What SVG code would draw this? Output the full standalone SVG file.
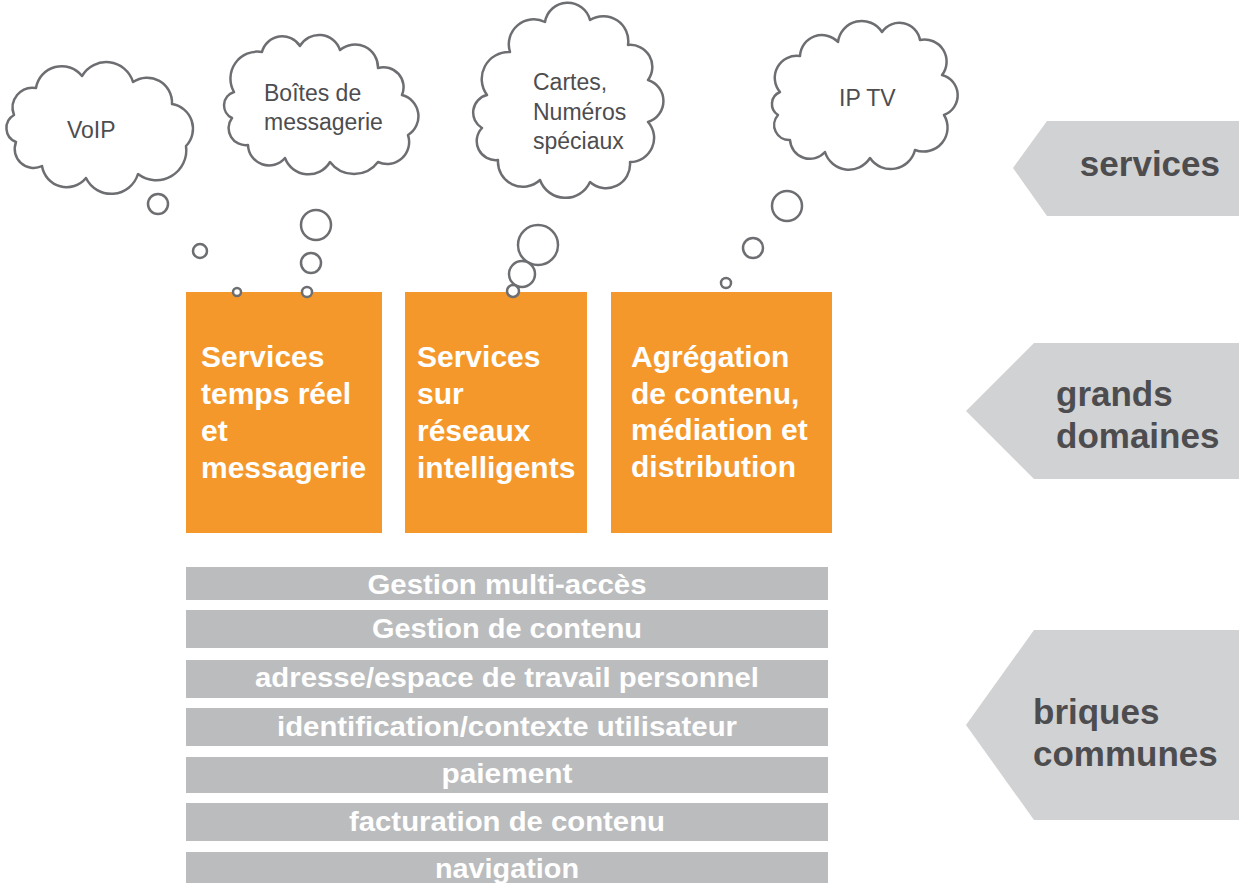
<svg xmlns="http://www.w3.org/2000/svg" width="1239" height="883" viewBox="0 0 1239 883">
<style>
.cloud{fill:#fff;stroke:#6d6e71;stroke-width:2.5;stroke-linejoin:round}
.bub{fill:#fff;stroke:#6d6e71;stroke-width:2.5}
.ct{font-family:"Liberation Sans",Arial,sans-serif;font-size:23px;fill:#4d4d4f}
.box{fill:#f4982b}
.bt{font-family:"Liberation Sans",Arial,sans-serif;font-size:30px;font-weight:bold;fill:#fff}
.bar{fill:#bbbcbe}
.brt{font-family:"Liberation Sans",Arial,sans-serif;font-size:28px;font-weight:bold;fill:#fff;text-anchor:middle}
.tag{fill:#d1d2d4}
.tt{font-family:"Liberation Sans",Arial,sans-serif;font-size:35px;font-weight:bold;fill:#4d4d4f}
</style>
<rect width="1239" height="883" fill="#fff"/>

<g id="tags">
<g id="tag-services">
<polygon class="tag" points="1047,121 1239,121 1239,216 1047,216 1013,168"/>
<text class="tt" x="1220" y="176" text-anchor="end">services</text>
</g>
<g id="tag-domaines">
<polygon class="tag" points="1034,343 1239,343 1239,479 1034,479 966,411"/>
<text class="tt" x="1056" y="406">grands</text>
<text class="tt" x="1056" y="448">domaines</text>
</g>
<g id="tag-briques">
<polygon class="tag" points="1034,630 1239,630 1239,820 1034,820 966,725"/>
<text class="tt" x="1033" y="724">briques</text>
<text class="tt" x="1033" y="766">communes</text>
</g>
</g>

<g id="domain-boxes">
<g id="box-temps-reel">
<rect class="box" x="186" y="292" width="196" height="241"/>
<text class="bt" x="201" y="367">Services</text>
<text class="bt" x="201" y="404">temps réel</text>
<text class="bt" x="201" y="441">et</text>
<text class="bt" x="201" y="478">messagerie</text>
</g>
<g id="box-reseaux">
<rect class="box" x="405" y="292" width="182" height="241"/>
<text class="bt" x="417" y="367">Services</text>
<text class="bt" x="417" y="404">sur</text>
<text class="bt" x="417" y="441">réseaux</text>
<text class="bt" x="417" y="478">intelligents</text>
</g>
<g id="box-agregation">
<rect class="box" x="611" y="292" width="221" height="241"/>
<text class="bt" x="631" y="367">Agrégation</text>
<text class="bt" x="631" y="404">de contenu,</text>
<text class="bt" x="631" y="440">médiation et</text>
<text class="bt" x="631" y="477">distribution</text>
</g>
</g>

<g id="bricks">
<g id="brick-1"><rect class="bar" x="186" y="567" width="642" height="33"/><text class="brt" x="507" y="594" textLength="279" lengthAdjust="spacingAndGlyphs">Gestion multi-accès</text></g>
<g id="brick-2"><rect class="bar" x="186" y="610" width="642" height="38"/><text class="brt" x="507" y="638" textLength="270" lengthAdjust="spacingAndGlyphs">Gestion de contenu</text></g>
<g id="brick-3"><rect class="bar" x="186" y="660" width="642" height="38"/><text class="brt" x="507" y="687" textLength="504" lengthAdjust="spacingAndGlyphs">adresse/espace de travail personnel</text></g>
<g id="brick-4"><rect class="bar" x="186" y="708" width="642" height="38"/><text class="brt" x="507" y="736" textLength="460" lengthAdjust="spacingAndGlyphs">identification/contexte utilisateur</text></g>
<g id="brick-5"><rect class="bar" x="186" y="757" width="642" height="36"/><text class="brt" x="507" y="783" textLength="131" lengthAdjust="spacingAndGlyphs">paiement</text></g>
<g id="brick-6"><rect class="bar" x="186" y="803" width="642" height="38"/><text class="brt" x="507" y="831" textLength="316" lengthAdjust="spacingAndGlyphs">facturation de contenu</text></g>
<g id="brick-7"><rect class="bar" x="186" y="852" width="642" height="31"/><text class="brt" x="507" y="878" textLength="144" lengthAdjust="spacingAndGlyphs">navigation</text></g>
</g>

<g id="connectors">
<circle class="bub" cx="158" cy="204" r="10"/>
<circle class="bub" cx="200" cy="251" r="7"/>
<circle class="bub" cx="237" cy="292" r="4"/>
<circle class="bub" cx="316" cy="225" r="15"/>
<circle class="bub" cx="311" cy="263" r="10"/>
<circle class="bub" cx="307" cy="292" r="5"/>
<circle class="bub" cx="538" cy="245" r="20"/>
<circle class="bub" cx="522" cy="274" r="13"/>
<circle class="bub" cx="513" cy="291" r="6"/>
<circle class="bub" cx="787" cy="206" r="15"/>
<circle class="bub" cx="753" cy="248" r="10"/>
<circle class="bub" cx="726" cy="283" r="5"/>
</g>

<g id="cloud-voip">
<path class="cloud" d="M14,115 A20,20 0 0 1 36,88 A26,26 0 0 1 82,76 A28,28 0 0 1 133,82 A25,25 0 0 1 172,104 A25,25 0 0 1 186,146 A30,30 0 0 1 138,174 A28,28 0 0 1 86,178 A25,25 0 0 1 42,166 A19,19 0 0 1 16,142 A15,15 0 0 1 14,115 Z"/>
<text class="ct" x="67" y="138">VoIP</text>
</g>
<g id="cloud-boites">
<path class="cloud" d="M234,92 A27,27 0 0 1 262,52 A21,21 0 0 1 300,46 A22,22 0 0 1 340,50 A23,23 0 0 1 378,68 A20,20 0 0 1 402,95 A22,22 0 0 1 408,135 A22,22 0 0 1 378,162 A30,30 0 0 1 330,162 A25,25 0 0 1 285,158 A21,21 0 0 1 248,145 A17,17 0 0 1 232,118 A14,14 0 0 1 234,92 Z"/>
<text class="ct" x="264" y="101">Boîtes de</text>
<text class="ct" x="264" y="130">messagerie</text>
</g>
<g id="cloud-cartes">
<path class="cloud" d="M487,95 A27,27 0 0 1 510,52 A25,25 0 0 1 545,22 A23,23 0 0 1 590,20 A25,25 0 0 1 628,45 A22,22 0 0 1 648,80 A22,22 0 0 1 648,122 A24,24 0 0 1 630,162 A24,24 0 0 1 590,182 A27,27 0 0 1 540,180 A25,25 0 0 1 498,160 A19,19 0 0 1 482,128 A18,18 0 0 1 487,95 Z"/>
<text class="ct" x="533" y="90">Cartes,</text>
<text class="ct" x="533" y="120">Numéros</text>
<text class="ct" x="533" y="149">spéciaux</text>
</g>
<g id="cloud-iptv">
<path class="cloud" d="M780,92 A22,22 0 0 1 800,56 A22,22 0 0 1 838,42 A24,24 0 0 1 882,32 A21,21 0 0 1 920,40 A22,22 0 0 1 942,75 A21,21 0 0 1 944,115 A24,24 0 0 1 915,150 A25,25 0 0 1 870,158 A25,25 0 0 1 825,152 A20,20 0 0 1 790,140 A15,15 0 0 1 778,115 A13,13 0 0 1 780,92 Z"/>
<text class="ct" x="839" y="106">IP TV</text>
</g>
</svg>
